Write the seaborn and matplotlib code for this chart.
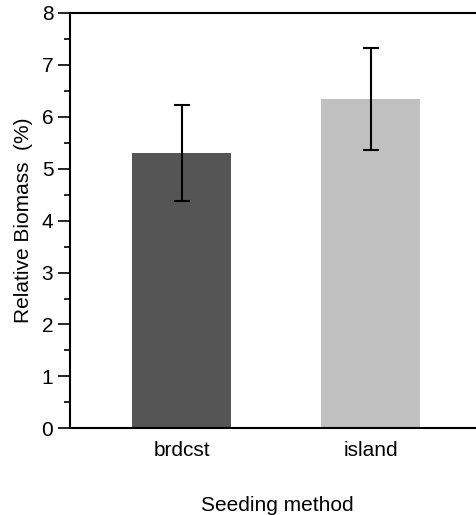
import matplotlib
matplotlib.use("Agg")
import matplotlib.pyplot as plt
from matplotlib.ticker import MultipleLocator
import seaborn as sns
import pandas as pd

# Relative biomass by seeding method (mean and error)
methods = ["brdcst", "island"]
biomass = [5.30, 6.34]
biomass_err = [0.93, 0.98]
bar_colors = ["#555555", "#c0c0c0"]
y_ticks = [0, 1, 2, 3, 4, 5, 6, 7, 8]

sns.set_theme(style="white")
plt.rcParams["font.family"] = ["Liberation Sans", "DejaVu Sans"]
plt.rcParams["text.color"] = "black"
plt.rcParams["axes.labelcolor"] = "black"
plt.rcParams["xtick.color"] = "black"
plt.rcParams["ytick.color"] = "black"

W, H = 477, 515
fig = plt.figure(figsize=(W / 100, H / 100), dpi=100)
left, right, top, bottom = 70, 485, 13, 428.3
ax = fig.add_axes([left / W, 1 - bottom / H, (right - left) / W, (bottom - top) / H])

df = pd.DataFrame({"method": methods, "biomass": biomass})
sns.barplot(data=df, x="method", y="biomass", hue="method", palette=bar_colors,
            width=0.524, errorbar=None, legend=False, saturation=1, ax=ax,
            linewidth=0)
ax.errorbar(x=list(range(len(methods))), y=biomass, yerr=biomass_err, fmt="none",
            ecolor="black", elinewidth=1.5, capsize=5.5, capthick=1.5)

ax.set_xlim(-0.591, 1.605)
ax.set_ylim(0, 8)
ax.set_yticks(y_ticks)
ax.yaxis.set_minor_locator(MultipleLocator(0.5))

ax.spines["right"].set_visible(False)
for side in ("left", "top", "bottom"):
    ax.spines[side].set_visible(True)
    ax.spines[side].set_color("black")
    ax.spines[side].set_linewidth(1.5)

ax.tick_params(axis="y", which="major", direction="out", length=9, width=1.2,
               color="black", labelcolor="black", labelsize=15, pad=3, left=True)
ax.tick_params(axis="y", which="minor", direction="out", length=4.5, width=1.2,
               color="black", left=True)
ax.tick_params(axis="x", which="both", length=0, labelsize=15, pad=9,
               labelcolor="black")

ax.set_xlabel("Seeding method", fontsize=15, labelpad=26, color="black")
ax.set_ylabel("Relative Biomass  (%)", fontsize=15, labelpad=6, color="black")
ax.grid(False)

fig.savefig("out.png", dpi=100)
